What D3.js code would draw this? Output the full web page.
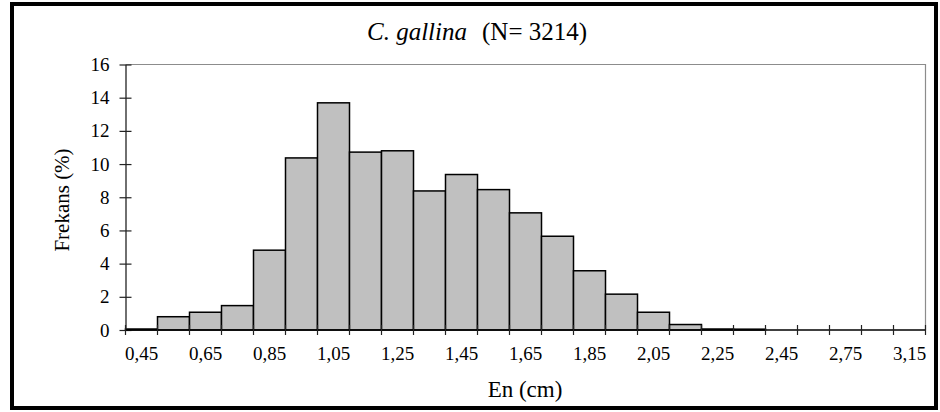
<!DOCTYPE html>
<html>
<head>
<meta charset="utf-8">
<script src="https://cdn.jsdelivr.net/npm/d3@7"></script>
<style>
  body { margin: 0; background: #fff; }
  svg text { font-family: "Liberation Serif", "Times New Roman", Times, serif !important; fill: #000; }
</style>
</head>
<body>
<script>
// bin categories (0.1 cm wide), only every other one is labelled
var bins = ["0,45","0,55","0,65","0,75","0,85","0,95","1,05","1,15","1,25","1,35",
            "1,45","1,55","1,65","1,75","1,85","1,95","2,05","2,15","2,25","2,35",
            "2,45","2,55","2,75","2,95","3,15"];
var freq = [0.06, 0.80, 1.07, 1.47, 4.81, 10.37, 13.69, 10.72, 10.80, 8.38,
            9.37, 8.46, 7.06, 5.65, 3.57, 2.16, 1.07, 0.33, 0.06, 0.05,
            0, 0, 0, 0, 0];
var labelled = ["0,45","0,65","0,85","1,05","1,25","1,45","1,65","1,85","2,05","2,25","2,45","2,75","3,15"];
var yTicks = [0, 2, 4, 6, 8, 10, 12, 14, 16];

var W = 940, H = 412;
var margin = {top: 64.5, right: 14.5, bottom: 82, left: 125.5},
    width = W - margin.left - margin.right,
    height = H - margin.top - margin.bottom;

var svg = d3.select("body").append("svg")
    .attr("width", W)
    .attr("height", H);

// outer frame
svg.append("rect")
    .attr("x", 12).attr("y", 4)
    .attr("width", 924).attr("height", 404)
    .attr("fill", "none")
    .attr("stroke", "#000")
    .attr("stroke-width", 4);

var g = svg.append("g")
    .attr("transform", "translate(" + margin.left + "," + margin.top + ")");

var x = d3.scaleBand().domain(bins).range([0, width]).padding(0);
var y = d3.scaleLinear().domain([0, 16]).range([height, 0]);

// plot area border (top / right)
g.append("path")
    .attr("d", "M0,0H" + width + "V" + height)
    .attr("fill", "none")
    .attr("stroke", "#8c8c8c")
    .attr("stroke-width", 1.2);

// bars
g.selectAll(".bar")
    .data(bins)
    .enter().append("rect")
    .attr("class", "bar")
    .filter(function(d, i) { return freq[i] > 0; })
    .attr("x", function(d) { return x(d); })
    .attr("width", x.bandwidth())
    .attr("y", function(d) { return y(freq[bins.indexOf(d)]); })
    .attr("height", function(d) { return height - y(freq[bins.indexOf(d)]); })
    .attr("fill", "#c0c0c0")
    .attr("stroke", "#000")
    .attr("stroke-width", 1.5);

// y axis
var yAxis = g.append("g").call(d3.axisLeft(y).tickValues(yTicks).tickSize(0).tickPadding(16));
yAxis.attr("font-family", null).attr("font-size", null);
yAxis.select(".domain").attr("stroke", "#222").attr("stroke-width", 1.3);
yAxis.selectAll(".tick line").remove();
yAxis.selectAll(".tick").append("line")
    .attr("x1", -6).attr("x2", 6)
    .attr("stroke", "#222").attr("stroke-width", 1.2);
yAxis.selectAll("text")
    .style("font-size", "19px");

// x axis: ticks on band edges, labels centred in the bands
var xg = g.append("g").attr("transform", "translate(0," + height + ")");
xg.append("line")
    .attr("x1", 0).attr("x2", width)
    .attr("stroke", "#000").attr("stroke-width", 1.3);
xg.selectAll(".xtick")
    .data(bins.concat(["end"]))
    .enter().append("line")
    .attr("x1", function(d, i) { return i * x.step(); })
    .attr("x2", function(d, i) { return i * x.step(); })
    .attr("y1", -5).attr("y2", 5)
    .attr("stroke", "#222").attr("stroke-width", 1.2);
xg.selectAll(".xlabel")
    .data(labelled)
    .enter().append("text")
    .attr("x", function(d) { return x(d) + x.bandwidth() / 2; })
    .attr("y", 30)
    .attr("text-anchor", "middle")
    .style("font-size", "19px")
    .text(function(d) { return d; });

// titles
var title = svg.append("text")
    .attr("x", 367)
    .attr("y", 40)
    .style("font-size", "25px");
title.append("tspan").style("font-style", "italic").text("C. gallina");
title.append("tspan").attr("x", 482).text("(N= 3214)");

svg.append("text")
    .attr("x", 525)
    .attr("y", 397)
    .attr("text-anchor", "middle")
    .style("font-size", "23px")
    .text("En (cm)");

svg.append("text")
    .attr("transform", "translate(69,200) rotate(-90)")
    .attr("text-anchor", "middle")
    .style("font-size", "21px")
    .text("Frekans (%)");
</script>
</body>
</html>
